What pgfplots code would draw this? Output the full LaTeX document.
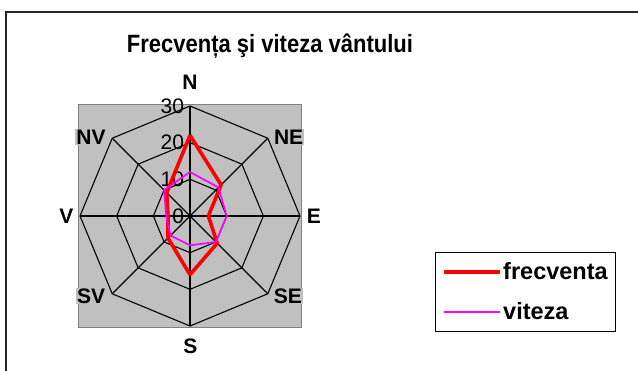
\documentclass[border=0pt]{standalone}
\usepackage{fontspec}
\setmainfont{Liberation Sans}
\usepackage{graphicx}
\usepackage{pgfplots}
\pgfplotsset{compat=1.18}
\definecolor{plotgray}{HTML}{C0C0C0}
\definecolor{edgegray}{HTML}{808080}
\definecolor{mag}{HTML}{FF00FF}
\newcommand{\lblfont}{\fontsize{21bp}{24bp}\selectfont\bfseries}
\newcommand{\tickfont}{\fontsize{21bp}{24bp}\selectfont}
\begin{document}
\begin{tikzpicture}
\useasboundingbox (0,0) rectangle (638bp,371bp);
\begin{axis}[
  at={(0,0)}, anchor=south west,
  scale only axis, width=638bp, height=371bp,
  xmin=-51.82, xmax=122.18, ymin=-42.27, ymax=58.91,
  hide axis, clip=false,
  legend style={at={(0.682,0.321)}, anchor=north west, draw=black, line width=1bp,
    fill=white, font=\fontsize{23.5bp}{26bp}\selectfont\bfseries,
    inner xsep=7bp, inner ysep=9.5bp, row sep=19bp,
    nodes={inner sep=1bp}},
  legend cell align=left,
  legend image code/.code={\draw[#1] (0bp,0bp) -- (56bp,0bp);},
]
% frame
\draw[line width=1.3bp, black!85] (axis cs:-50.2,-43) -- (axis cs:-50.2,55.6) -- (axis cs:123,55.6);
% title
\node[anchor=base, font=\fontsize{25bp}{28bp}\selectfont\bfseries] at (axis cs:21.8,44.6) {\scalebox{0.88}[1]{Frecvența şi viteza vântului}};
% plot area
\draw[fill=plotgray, draw=edgegray, line width=1.5bp] (axis cs:-30.4,-30.4) rectangle (axis cs:30.4,30.4);
% octagonal grid
\addplot[black, line width=1.1bp, data cs=polar, forget plot] coordinates {(90,10)(45,10)(0,10)(-45,10)(-90,10)(-135,10)(180,10)(135,10)(90,10)};
\addplot[black, line width=1.1bp, data cs=polar, forget plot] coordinates {(90,20)(45,20)(0,20)(-45,20)(-90,20)(-135,20)(180,20)(135,20)(90,20)};
\addplot[black, line width=1.1bp, data cs=polar, forget plot] coordinates {(90,30)(45,30)(0,30)(-45,30)(-90,30)(-135,30)(180,30)(135,30)(90,30)};
\addplot[black, line width=1.1bp, data cs=polar, forget plot] coordinates {(90,30)(-90,30)};
\addplot[black, line width=1.1bp, data cs=polar, forget plot] coordinates {(0,30)(180,30)};
\addplot[black, line width=1.1bp, data cs=polar, forget plot] coordinates {(45,30)(-135,30)};
\addplot[black, line width=1.1bp, data cs=polar, forget plot] coordinates {(135,30)(-45,30)};
% tick labels
\pgfplotsinvokeforeach{0,10,20,30}{
  \node[anchor=east, inner sep=0pt, font=\tickfont] at (axis cs:-1.6,#1) {#1};
}
% direction labels
\node[font=\lblfont, inner sep=1bp] at (axis cs:0,36.5) {N};
\node[font=\lblfont, inner sep=1bp, fill=plotgray] at (axis cs:26.9,21.5) {NE};
\node[font=\lblfont, inner sep=1bp] at (axis cs:33.8,0) {E};
\node[font=\lblfont, inner sep=1bp, fill=plotgray] at (axis cs:26.7,-21.8) {SE};
\node[font=\lblfont, inner sep=1bp] at (axis cs:0.1,-35.6) {S};
\node[font=\lblfont, inner sep=1bp, fill=plotgray] at (axis cs:-27.0,-21.8) {SV};
\node[font=\lblfont, inner sep=1bp] at (axis cs:-33.7,0) {V};
\node[font=\lblfont, inner sep=1bp, fill=plotgray] at (axis cs:-27.0,21.5) {NV};
% data: (angle, value) for N, NE, E, SE, S, SV, V, NV
\addplot[red, line width=3.6bp, line join=round, data cs=polar] coordinates {(90,22)(45,12)(0,5)(-45,10.5)(-90,16)(-135,8.5)(180,6)(135,9)(90,22)};
\addlegendentry{frecventa}
\addplot[mag, line width=1.7bp, line join=round, data cs=polar] coordinates {(90,12)(45,11)(0,10)(-45,10)(-90,8)(-135,7.5)(180,6.5)(135,10)(90,12)};
\addlegendentry{viteza}
\end{axis}
\end{tikzpicture}
\end{document}
